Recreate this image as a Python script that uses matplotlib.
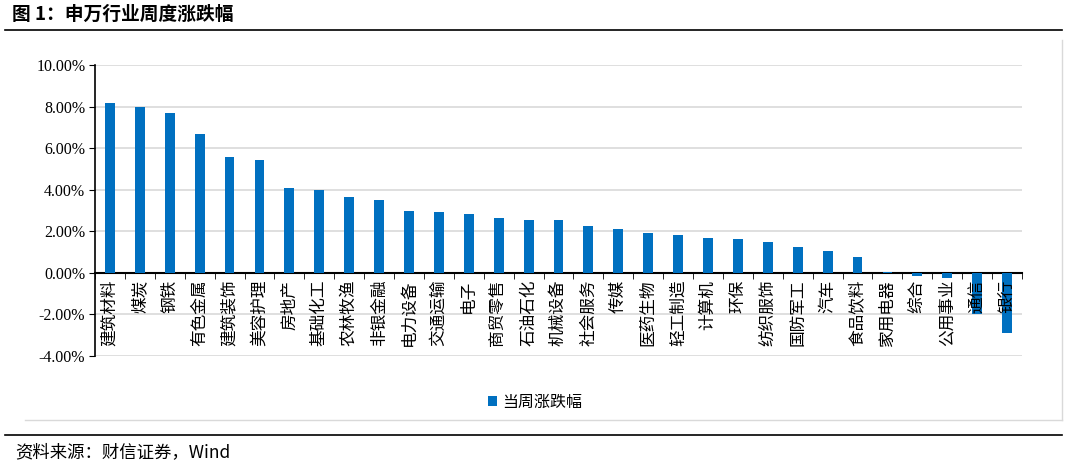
import matplotlib
matplotlib.use("Agg")
import matplotlib.pyplot as plt
from matplotlib.lines import Line2D
from matplotlib.ticker import FuncFormatter, MultipleLocator

plt.rcParams['font.family'] = ['Noto Sans CJK SC', 'DejaVu Sans']

industries = ["建筑材料", "煤炭", "钢铁", "有色金属", "建筑装饰", "美容护理", "房地产", "基础化工",
              "农林牧渔", "非银金融", "电力设备", "交通运输", "电子", "商贸零售", "石油石化", "机械设备",
              "社会服务", "传媒", "医药生物", "轻工制造", "计算机", "环保", "纺织服饰", "国防军工",
              "汽车", "食品饮料", "家用电器", "综合", "公用事业", "通信", "银行"]
weekly_change = [8.17, 7.98, 7.69, 6.68, 5.58, 5.43, 4.09, 3.99,
                 3.67, 3.51, 2.98, 2.92, 2.84, 2.63, 2.55, 2.55,
                 2.26, 2.11, 1.91, 1.83, 1.68, 1.62, 1.47, 1.25,
                 1.04, 0.75, 0.02, -0.13, -0.27, -2.00, -2.88]

BLUE = "#0070C0"

fig = plt.figure(figsize=(10.67, 4.66), dpi=100)
ax = fig.add_axes([95 / 1067, 1 - 356 / 466, (1022 - 95) / 1067, (356 - 65) / 466])

# spine position first: it resets the ticks
ax.spines["bottom"].set_position(("data", 0))
ax.spines["top"].set_visible(False)
ax.spines["right"].set_visible(False)
ax.spines["left"].set_linewidth(1.2)
ax.spines["bottom"].set_linewidth(1.5)

x = list(range(len(industries)))
ax.bar(x, weekly_change, width=0.33, color=BLUE, zorder=3, label="当周涨跌幅")

ax.set_ylim(-4, 10)
ax.set_xlim(-0.5, len(industries) - 0.5)
ax.yaxis.set_major_locator(MultipleLocator(2))
ax.yaxis.set_major_formatter(FuncFormatter(lambda v, _: f"{v:.2f}%"))
ax.tick_params(axis="y", labelsize=11.5, length=4, direction="out", pad=3)

# category names drawn on top of the (negative) bars
ax.set_xticks(x)
ax.set_xticklabels([])
ax.set_xticks([i + 0.5 for i in x[:-1]] + [-0.5, len(industries) - 0.5], minor=True)
ax.tick_params(axis="x", which="major", length=0)
ax.tick_params(axis="x", which="minor", length=4, direction="out")
for i, name in zip(x, industries):
    ax.annotate(name, xy=(i, 0), xytext=(0, -5), textcoords="offset points",
                rotation=90, va="top", ha="center", fontsize=12, zorder=5,
                annotation_clip=False)

ax.grid(axis="y", color="#d9d9d9", linewidth=1.2, zorder=0)
ax.set_axisbelow(True)

for lab in ax.get_yticklabels():
    lab.set_family("Liberation Serif")

fig.legend(loc="center", bbox_to_anchor=(535 / 1067, 1 - 402 / 466), frameon=False,
           fontsize=11.5, handlelength=0.6, handleheight=0.6, handletextpad=0.3)

# title, rules and source note
fig.text(12 / 1067, 1 - 14 / 466, "图 1：申万行业周度涨跌幅", fontsize=13.5, fontweight="bold",
         va="center", ha="left")
fig.add_artist(Line2D([5 / 1067, 1062 / 1067], [1 - 30 / 466] * 2, color="black", linewidth=1.2))
fig.add_artist(Line2D([1062 / 1067] * 2, [1 - 40 / 466, 1 - 420 / 466], color="#d9d9d9", linewidth=1))
fig.add_artist(Line2D([25 / 1067, 1062 / 1067], [1 - 420 / 466] * 2, color="#d9d9d9", linewidth=1))
fig.add_artist(Line2D([5 / 1067, 1062 / 1067], [1 - 435 / 466] * 2, color="black", linewidth=1.2))
fig.text(15 / 1067, 1 - 452 / 466, "资料来源：财信证券，Wind", fontsize=12.5, style="italic",
         va="center", ha="left")

fig.savefig("out.png", dpi=100)
